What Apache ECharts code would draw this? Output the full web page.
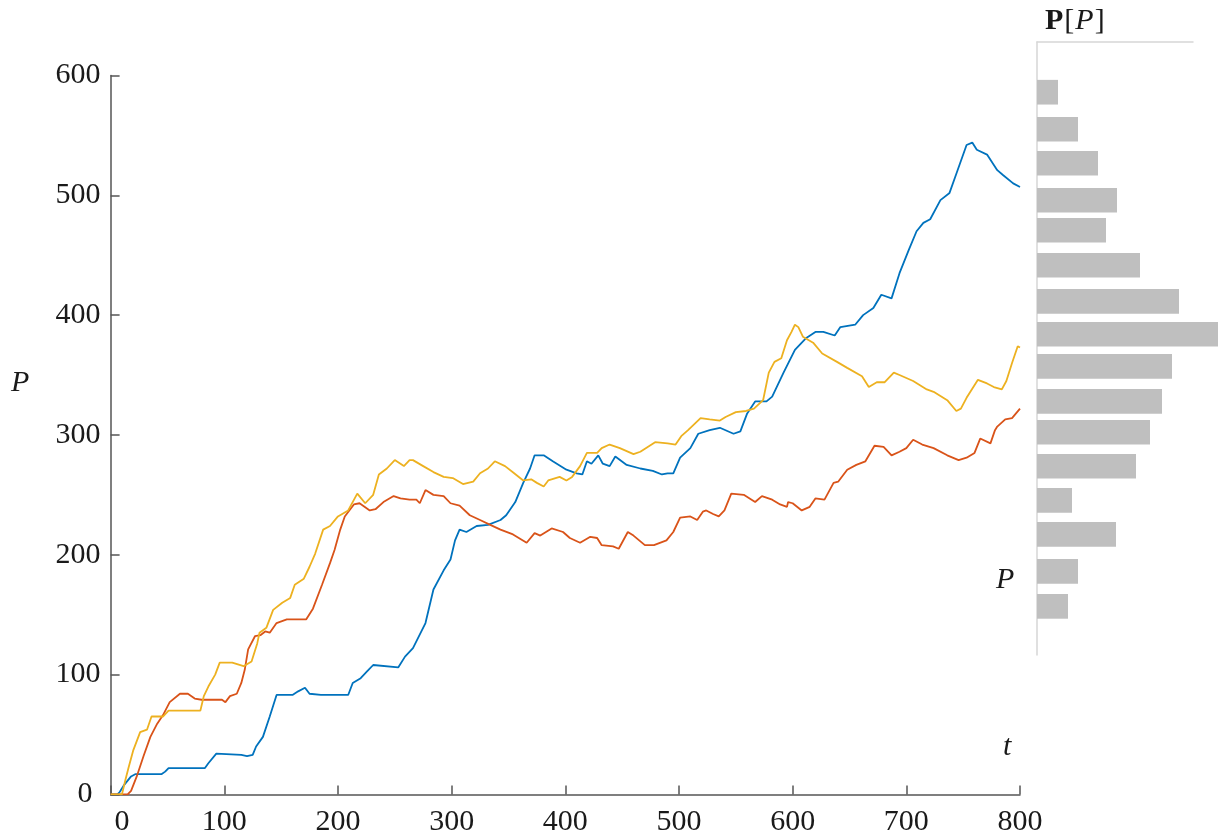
<!DOCTYPE html>
<html>
<head>
<meta charset="utf-8">
<script src="https://cdn.jsdelivr.net/npm/echarts@6/dist/echarts.min.js"></script>
<style>html,body{margin:0;padding:0;background:#fff}#c{width:1219px;height:839px}</style>
</head>
<body>
<div id="c"></div>
<script>
// ---- data ----
const xTicks = [0, 100, 200, 300, 400, 500, 600, 700, 800];
const yTicks = [0, 100, 200, 300, 400, 500, 600];

const walkBlue = [[0,0],[6,0],[8,2],[12,8],[18,15],[22,17],[45,17],[48,19],[51,22],[83,22],[86,26],[93,34],[115,33],[120,32],[125,33],[128,40],[134,48],[140,65],[146,83],[160,83],[165,86],[171,89],[175,84],[185,83],[209,83],[213,93],[220,97],[226,103],[231,108],[253,106],[259,115],[266,122],[277,143],[284,171],[293,187],[299,196],[303,212],[307,221],[313,219],[322,224],[332,225],[343,229],[348,233],[356,244],[363,260],[369,272],[373,283],[381,283],[389,278],[401,271],[410,268],[415,267],[419,278],[423,276],[429,283],[433,276],[439,274],[444,282],[454,275],[466,272],[477,270],[485,267],[490,268],[495,268],[501,281],[510,289],[517,301],[527,304],[536,306],[548,301],[554,303],[560,318],[567,328],[577,328],[582,332],[592,352],[602,371],[612,381],[620,386],[627,386],[637,383],[642,390],[655,392],[662,400],[671,406],[678,417],[687,414],[694,435],[702,454],[709,470],[715,477],[721,480],[730,496],[738,502],[744,518],[753,542],[758,544],[762,538],[771,534],[780,521],[785,517],[794,510],[800,507]];

const walkOrange = [[0,0],[15,0],[18,3],[23,15],[29,32],[35,48],[41,59],[46,66],[52,77],[61,84],[68,84],[74,80],[80,79],[98,79],[101,77],[105,82],[111,84],[115,93],[118,104],[121,121],[127,132],[132,133],[136,136],[140,135],[146,143],[155,146],[172,146],[178,155],[186,175],[193,193],[197,204],[202,221],[206,232],[214,242],[219,243],[228,237],[233,238],[240,244],[249,249],[255,247],[263,246],[269,246],[272,243],[277,254],[284,250],[293,249],[299,243],[307,241],[316,233],[325,229],[334,225],[343,221],[354,217],[366,210],[373,218],[378,216],[388,222],[398,219],[404,214],[413,210],[422,215],[428,214],[432,208],[442,207],[447,205],[455,219],[460,216],[470,208],[478,208],[489,212],[495,219],[501,231],[510,232],[516,229],[521,236],[524,237],[530,234],[535,232],[540,237],[546,251],[557,250],[567,244],[573,249],[582,246],[589,242],[595,240],[596,244],[600,243],[608,237],[615,240],[620,247],[628,246],[636,260],[640,261],[648,271],[656,275],[664,278],[672,291],[680,290],[687,283],[694,286],[700,289],[706,296],[714,292],[724,289],[736,283],[746,279],[753,281],[760,285],[765,297],[774,293],[778,304],[780,307],[787,313],[793,314],[800,322]];

const walkYellow = [[0,0],[10,0],[13,12],[16,23],[20,37],[26,52],[32,54],[36,65],[46,65],[51,70],[60,70],[79,70],[82,82],[86,90],[92,100],[96,110],[107,110],[117,107],[124,111],[129,126],[131,135],[137,139],[143,154],[151,160],[158,164],[162,175],[170,180],[175,190],[180,201],[187,221],[193,224],[200,232],[209,237],[217,251],[224,243],[231,250],[236,267],[243,272],[250,279],[258,274],[263,279],[266,279],[275,274],[284,269],[293,265],[301,264],[310,259],[319,261],[325,268],[332,272],[338,278],[347,274],[355,268],[363,262],[370,263],[375,260],[381,257],[385,262],[395,265],[401,262],[406,265],[413,274],[419,285],[428,285],[432,289],[439,292],[448,289],[460,284],[466,286],[479,294],[490,293],[497,292],[502,299],[508,304],[519,314],[527,313],[536,312],[541,315],[550,319],[559,320],[566,322],[574,329],[579,352],[584,361],[590,364],[595,379],[599,386],[602,392],[605,390],[609,382],[618,377],[626,368],[639,361],[648,356],[661,349],[667,340],[674,344],[681,344],[689,352],[694,350],[706,345],[718,338],[724,336],[736,329],[744,320],[748,322],[753,331],[763,346],[771,343],[777,340],[784,338],[788,345],[793,360],[798,374],[800,373]];

// histogram: bin centres (in P) and relative frequencies
const histBins = [586.1, 555.2, 526.8, 495.9, 470.9, 441.7, 411.6, 384.1, 357.3, 328.1, 302.3, 273.9, 245.5, 217.1, 186.2, 157.0];
const histFreq = [2.1, 4.1, 6.1, 8.0, 6.9, 10.3, 14.2, 18.1, 13.5, 12.5, 11.3, 9.9, 3.5, 7.9, 4.1, 3.1];

// ---- chart ----
const SERIF = "'Liberation Serif', 'DejaVu Serif', serif";
const FS = 30;
const axisColor = '#555555';
const chart = echarts.init(document.getElementById('c'), null, {renderer: 'canvas'});

const binThickness = 20.6;

chart.setOption({
  animation: false,
  backgroundColor: '#ffffff',
  grid: [
    {left: 110.6, right: 199, top: 75.5, bottom: 44.6, containLabel: false},
    {left: 1037, right: 26, top: 42, bottom: 184, containLabel: false}
  ],
  xAxis: [
    {
      type: 'value', gridIndex: 0, min: 0, max: 800, interval: 100,
      axisLine: {show: true, onZero: false, lineStyle: {color: axisColor, width: 1.5}},
      axisTick: {show: true, inside: true, length: 9, lineStyle: {color: axisColor, width: 1.5}},
      splitLine: {show: false},
      axisLabel: {
        show: true, margin: 13, color: '#1a1a1a', fontFamily: SERIF, fontSize: FS,
        formatter: v => v === 0 ? '{z|0}' : String(v),
        rich: {z: {fontFamily: SERIF, fontSize: FS, color: '#1a1a1a', padding: [0, 0, 0, 23]}}
      }
    },
    {
      type: 'value', gridIndex: 1, min: 0, max: 15.6, position: 'top',
      axisLine: {show: true, onZero: false, lineStyle: {color: '#d6d6d6', width: 1.5}},
      axisTick: {show: false}, axisLabel: {show: false}, splitLine: {show: false}
    }
  ],
  yAxis: [
    {
      type: 'value', gridIndex: 0, min: 0, max: 600, interval: 100,
      axisLine: {show: true, onZero: false, lineStyle: {color: axisColor, width: 1.5}},
      axisTick: {show: true, inside: true, length: 9, lineStyle: {color: axisColor, width: 1.5}},
      splitLine: {show: false},
      axisLabel: {
        show: true, margin: 10, color: '#1a1a1a', fontFamily: SERIF, fontSize: FS,
        formatter: v => v === 0 ? '{z|0}' : String(v),
        rich: {z: {fontFamily: SERIF, fontSize: FS, color: '#1a1a1a', padding: [0, 8, 0, 0]}}
      }
    },
    {
      type: 'value', gridIndex: 1, min: 116.4, max: 628.0,
      axisLine: {show: true, onZero: false, lineStyle: {color: '#d6d6d6', width: 1.5}},
      axisTick: {show: false}, axisLabel: {show: false}, splitLine: {show: false}
    }
  ],
  series: [
    {type: 'line', xAxisIndex: 0, yAxisIndex: 0, data: walkBlue, showSymbol: false, symbol: 'none',
     lineStyle: {color: '#0072BD', width: 1.8}, z: 3},
    {type: 'line', xAxisIndex: 0, yAxisIndex: 0, data: walkOrange, showSymbol: false, symbol: 'none',
     lineStyle: {color: '#D95319', width: 1.8}, z: 4},
    {type: 'line', xAxisIndex: 0, yAxisIndex: 0, data: walkYellow, showSymbol: false, symbol: 'none',
     lineStyle: {color: '#EDB120', width: 1.8}, z: 5},
    {
      type: 'custom', xAxisIndex: 1, yAxisIndex: 1, clip: false,
      data: histBins.map((b, i) => [b, histFreq[i]]),
      encode: {x: 1, y: 0},
      renderItem: function (params, api) {
        const p = api.value(0), f = api.value(1);
        const a = api.coord([0, p]);
        const b = api.coord([f, p]);
        const h = api.size([0, binThickness])[1];
        return {type: 'rect', shape: {x: a[0], y: a[1] - h / 2, width: b[0] - a[0], height: h},
                style: {fill: '#bfbfbf'}};
      }
    }
  ],
  graphic: [
    {type: 'text', left: 11, top: 368, style: {text: 'P', font: 'italic ' + FS + 'px ' + SERIF, fill: '#1a1a1a'}},
    {type: 'text', left: 1003, top: 732, style: {text: 't', font: 'italic ' + FS + 'px ' + SERIF, fill: '#1a1a1a'}},
    {type: 'text', left: 996, top: 565, style: {text: 'P', font: 'italic ' + FS + 'px ' + SERIF, fill: '#1a1a1a'}},
    {type: 'text', left: 1045, top: 6, style: {
      text: '{b|P}{r|[}{i|P}{r|]}',
      rich: {
        b: {fontFamily: SERIF, fontWeight: 'bold', fontSize: FS, fill: '#1a1a1a', color: '#1a1a1a'},
        r: {fontFamily: SERIF, fontSize: FS, fill: '#1a1a1a', color: '#1a1a1a', padding: [0, 1, 0, 1]},
        i: {fontFamily: SERIF, fontStyle: 'italic', fontSize: FS, fill: '#1a1a1a', color: '#1a1a1a'}
      }
    }}
  ]
});
</script>
</body>
</html>
